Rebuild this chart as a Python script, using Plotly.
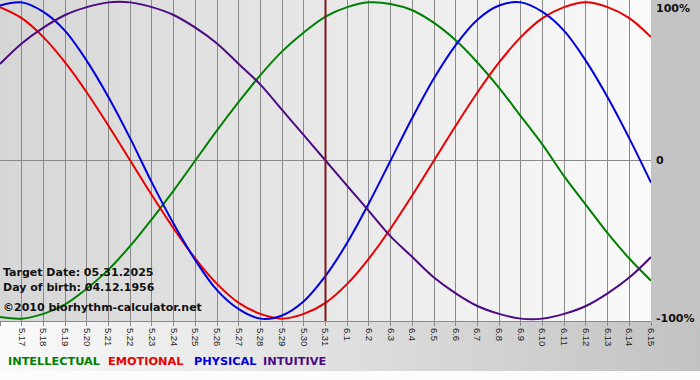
import base64
import struct
import zlib

import plotly.graph_objects as go

# ---------------- data ----------------
dates = ["5.16", "5.17", "5.18", "5.19", "5.20", "5.21", "5.22", "5.23", "5.24",
         "5.25", "5.26", "5.27", "5.28", "5.29", "5.30", "5.31", "6.1", "6.2",
         "6.3", "6.4", "6.5", "6.6", "6.7", "6.8", "6.9", "6.10", "6.11", "6.12",
         "6.13", "6.14", "6.15"]

intellectual = [-0.99, -1.00, -0.97, -0.91, -0.81, -0.69, -0.54, -0.37, -0.19,
                0.00, 0.19, 0.37, 0.54, 0.69, 0.81, 0.91, 0.97, 1.00, 0.99, 0.95,
                0.87, 0.76, 0.62, 0.46, 0.28, 0.10, -0.10, -0.28, -0.46, -0.62,
                -0.76]

emotional = [0.97, 0.90, 0.78, 0.62, 0.43, 0.22, 0.00, -0.22, -0.43, -0.62,
             -0.78, -0.90, -0.97, -1.00, -0.97, -0.90, -0.78, -0.62, -0.43,
             -0.22, 0.00, 0.22, 0.43, 0.62, 0.78, 0.90, 0.97, 1.00, 0.97, 0.90,
             0.78]

physical = [0.98, 1.00, 0.94, 0.82, 0.63, 0.40, 0.14, -0.14, -0.40, -0.63,
            -0.82, -0.94, -1.00, -0.98, -0.89, -0.73, -0.52, -0.27, 0.00, 0.27,
            0.52, 0.73, 0.89, 0.98, 1.00, 0.94, 0.82, 0.63, 0.40, 0.14, -0.14]

intuitive = [0.61, 0.74, 0.84, 0.92, 0.97, 1.00, 1.00, 0.97, 0.92, 0.84, 0.74,
             0.61, 0.48, 0.32, 0.16, 0.00, -0.16, -0.32, -0.48, -0.61, -0.74,
             -0.84, -0.92, -0.97, -1.00, -1.00, -0.97, -0.92, -0.84, -0.74,
             -0.61]

series_names = ["INTELLECTUAL", "EMOTIONAL", "PHYSICAL", "INTUITIVE"]
series_colors = ["#008000", "#e80000", "#0000dd", "#4b0a82"]
target_label = "5.31"
y_tick_vals = [1, 0, -1]
y_tick_text = ["100%", "0", "-100%"]
info_lines = ["Target Date: 05.31.2025", "Day of birth: 04.12.1956",
              "\u00a92010 biorhythm-calculator.net"]


# ---------------- gradient images ----------------
def gradient_png(c0, c1, width=256):
    row = bytearray([0])
    for i in range(width):
        t = i / (width - 1)
        for a, b in zip(c0, c1):
            row.append(int(round(a + (b - a) * t)))
    raw = bytes(row)

    def chunk(tag, data):
        c = tag + data
        return struct.pack(">I", len(data)) + c + struct.pack(">I", zlib.crc32(c) & 0xffffffff)

    png = b"\x89PNG\r\n\x1a\n"
    png += chunk(b"IHDR", struct.pack(">IIBBBBB", width, 1, 8, 2, 0, 0, 0))
    png += chunk(b"IDAT", zlib.compress(raw, 9))
    png += chunk(b"IEND", b"")
    return "data:image/png;base64," + base64.b64encode(png).decode()


W, H = 700, 380
ML, MR, MT, MB = 0, 49, 0, 59
PW, PH = W - ML - MR, H - MT - MB

fig = go.Figure()

for name, vals, col in zip(series_names,
                           [intellectual, emotional, physical, intuitive],
                           series_colors):
    fig.add_trace(go.Scatter(x=list(range(len(dates))), y=vals, mode="lines",
                             name=name, line=dict(color=col, width=2, shape="spline", smoothing=1.0),
                             hoverinfo="skip"))

# target date line
fig.add_vline(x=dates.index(target_label), line=dict(color="#7a1a1a", width=2), layer="above")

images = [
    # plot area gradient
    dict(source=gradient_png((214, 214, 214), (250, 250, 250)), xref="paper", yref="paper",
         x=0, y=1, sizex=1, sizey=1, xanchor="left", yanchor="top",
         sizing="stretch", layer="below"),
    # bottom band gradient
    dict(source=gradient_png((250, 250, 250), (194, 194, 194)), xref="paper", yref="paper",
         x=0, y=0, sizex=W / PW, sizey=50 / PH, xanchor="left", yanchor="top",
         sizing="stretch", layer="below"),
]

annotations = []
for v, t in zip(y_tick_vals, y_tick_text):
    annotations.append(dict(
        x=1, xref="paper", y=v, yref="y", text=t, showarrow=False,
        xanchor="left", yanchor="top" if v == 1 else "middle", xshift=3,
        yshift=2 if v == 1 else 0,
        font=dict(family="DejaVu Sans", size=11, color="#111111", weight="bold")))

info_y = [272, 287, 307]
for txt, py in zip(info_lines, info_y):
    annotations.append(dict(
        x=0, xref="paper", y=1 - py / PH, yref="paper", text=txt, showarrow=False,
        xanchor="left", yanchor="middle", xshift=1,
        font=dict(family="DejaVu Sans", size=11, color="#111111", weight="bold")))

legend_x = [7, 107, 193, 262]
for name, col, px in zip(series_names, series_colors, legend_x):
    annotations.append(dict(
        x=px / PW, xref="paper", y=-(362 - PH) / PH, yref="paper", text=name,
        showarrow=False, xanchor="left", yanchor="middle", xshift=-1,
        font=dict(family="DejaVu Sans", size=11.3, color=col, weight="bold")))

fig.update_layout(
    width=W, height=H,
    margin=dict(l=ML, r=MR, t=MT, b=MB, pad=0, autoexpand=False),
    paper_bgcolor="#c4c4c4",
    plot_bgcolor="rgba(0,0,0,0)",
    showlegend=False,
    images=images,
    annotations=annotations,
    xaxis=dict(
        range=[0, len(dates) - 1], automargin=False,
        tickmode="array", tickvals=list(range(len(dates))), ticktext=dates,
        tickangle=90, tickfont=dict(family="Liberation Sans", size=9.5, color="#1e1e1e"),
        showgrid=True, gridcolor="#8a8a8a", gridwidth=1,
        ticks="outside", ticklen=4, tickcolor="#8a8a8a", tickwidth=1,
        showline=True, linecolor="#8a8a8a", linewidth=1,
        zeroline=False, fixedrange=True,
    ),
    yaxis=dict(
        range=[-1.015, 1.015], showticklabels=False, ticks="", automargin=False,
        tickmode="array", tickvals=[0], showgrid=True, gridcolor="#8a8a8a",
        gridwidth=1, zeroline=False, fixedrange=True,
    ),
)

# white strip at very bottom
fig.add_shape(type="rect", xref="paper", yref="paper", x0=0, x1=W / PW,
              y0=-(H - PH) / PH, y1=-(371 - PH) / PH,
              fillcolor="#fcfcfc", line=dict(width=0), layer="below")

fig.write_html("out.html", config={"displayModeBar": False},
               post_script="document.body.style.margin='0';document.body.style.padding='0';")
